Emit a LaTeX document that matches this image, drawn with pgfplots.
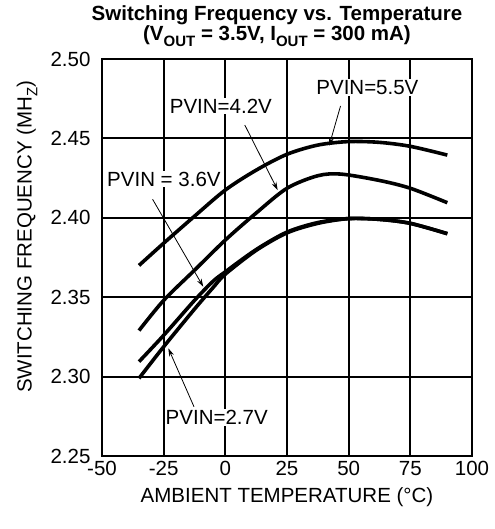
\documentclass[border=0pt]{standalone}
\usepackage{fontspec}
\setmainfont{Liberation Sans}
\usepackage{pgfplots}
\pgfplotsset{compat=1.18}
\usetikzlibrary{arrows.meta}
\newcommand{\fs}{\fontsize{20.5bp}{22bp}\selectfont}
\newcommand{\sub}[1]{\raisebox{-0.28em}{\fontsize{15bp}{15bp}\selectfont #1}}
\begin{document}
\begin{tikzpicture}
\begin{axis}[
  at={(0,0)}, anchor=south west,
  width=370bp, height=397bp, scale only axis,
  xmin=-50, xmax=100, ymin=2.25, ymax=2.50,
  xtick={-50,-25,0,25,50,75,100},
  xticklabels={-50,-25,0,25,50,75,100},
  ytick={2.25,2.30,2.35,2.40,2.45,2.50},
  yticklabels={2.25,2.30,2.35,2.40,2.45,2.50},
  xmajorgrids=true, ymajorgrids=true,
  grid style={black, line width=2bp},
  tick align=inside,
  tick style={black, line width=2bp},
  axis line style={line width=2bp},
  ticklabel style={font=\fs},
  yticklabel style={xshift=-8bp},
  xticklabel style={yshift=-2bp},
  clip=false,
]
\addplot[black, line width=3.6bp, smooth] coordinates {
(-35,2.370) (-25,2.384) (-12.5,2.401) (0,2.4175) (12.5,2.430) (25,2.440) (37.5,2.4458) (50,2.448) (62.5,2.4475) (75,2.445) (90,2.4395)};
\addplot[black, line width=3.6bp, smooth] coordinates {
(-35,2.329) (-25,2.348) (-12.5,2.367) (0,2.386) (12.5,2.403) (25,2.4186) (37.5,2.4265) (47,2.4275) (62.5,2.4235) (75,2.4186) (90,2.4095)};
\addplot[black, line width=3.6bp, smooth] coordinates {
(-35,2.3094) (-25,2.326) (-12.5,2.348) (-5,2.360) (0,2.366) (12.5,2.380) (25,2.391) (37.5,2.397) (50,2.3995) (62.5,2.399) (75,2.3965) (90,2.390)};
\addplot[black, line width=3.6bp, smooth] coordinates {
(-35,2.2989) (-25,2.3188) (-12.5,2.3425) (-5,2.356) (0,2.3645) (12.5,2.3795) (25,2.3905) (37.5,2.3965) (50,2.3995) (62.5,2.399) (75,2.3965) (90,2.390)};

% annotations
\node[font=\fs, fill=white, inner sep=1bp] at (axis cs:57.6,2.482) {PVIN=5.5V};
\draw[-{Stealth[length=8bp,width=5bp]}, line width=0.8bp] (axis cs:46.7,2.4704) -- (axis cs:42.1,2.4455);
\node[font=\fs, fill=white, inner sep=1bp] at (axis cs:-1.8,2.4704) {PVIN=4.2V};
\draw[-{Stealth[length=8bp,width=5bp]}, line width=0.8bp] (axis cs:7.9,2.4584) -- (axis cs:21.2,2.4175);
\node[font=\fs, fill=white, inner sep=1bp] at (axis cs:-24.9,2.4244) {PVIN = 3.6V};
\draw[-{Stealth[length=8bp,width=5bp]}, line width=0.8bp] (axis cs:-29.5,2.4117) -- (axis cs:-8.95,2.3566);
\node[font=\fs, fill=white, inner sep=1bp] at (axis cs:-3.5,2.2742) {PVIN=2.7V};
\draw[-{Stealth[length=8bp,width=5bp]}, line width=0.8bp] (axis cs:-12.7,2.281) -- (axis cs:-23.1,2.3178);

% axis labels
\node[font=\fs, anchor=base] at ([yshift=-46bp]rel axis cs:0.5,0) {AMBIENT TEMPERATURE (°C)};
\node[font=\fs, rotate=90, anchor=center] at ([xshift=-75bp]rel axis cs:0,0.552) {SWITCHING FREQUENCY (MH\sub{Z})};
% title
\node[font=\bfseries\fontsize{20.5bp}{17bp}\selectfont, anchor=base, inner sep=0pt] at ([yshift=38bp]rel axis cs:0.473,1) {\begin{tabular}[t]{@{}c@{}}Switching Frequency vs. Temperature\\(V\sub{OUT} = 3.5V, I\sub{OUT} = 300 mA)\end{tabular}};
\end{axis}
\pgfresetboundingbox
\path[use as bounding box] (-102bp,-73bp) rectangle (393bp,456bp);
\end{tikzpicture}
\end{document}
